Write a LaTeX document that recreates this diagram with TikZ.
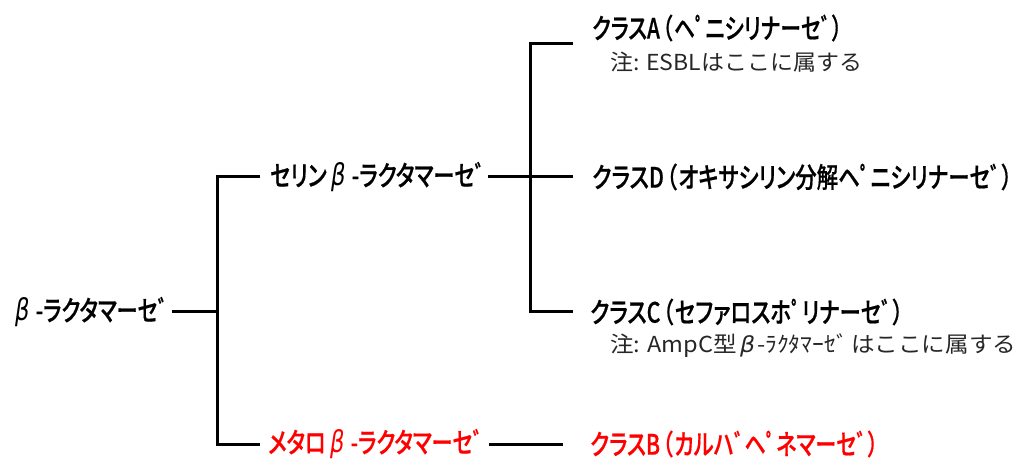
\documentclass[tikz,border=0pt]{standalone}
\usepackage{fontspec}
\usepackage{graphicx}
\newfontfamily\jpn{Noto Sans CJK JP}[RawFeature=+palt,BoldFont={Noto Sans CJK JP Medium},BoldFeatures={FakeBold=0.7}]
\newfontfamily\jpnote{Noto Sans CJK JP}
\newfontfamily\grk{DejaVu Sans}
\newcommand\fitw[2]{\resizebox{#1pt}{\height}{#2}}
\newcommand\gbeta{{\grk\mdseries\itshape\fontsize{30}{30}\selectfont β}}
\newcommand\nbeta{{\grk\itshape β}}
\newcommand\lp{\hspace{3pt}（\hspace{2pt}}
\newcommand\rp{\hspace{1pt}）}
\begin{document}
\begin{tikzpicture}[x=1pt,y=-1pt,
  lbl/.style={anchor=west,inner sep=0pt,font=\jpn\bfseries\fontsize{28}{30}\selectfont},
  note/.style={anchor=west,inner sep=0pt,font=\jpnote\fontsize{22}{24}\selectfont,text=black!85},
  red lbl/.style={lbl,text=red},
  conn/.style={line width=3pt}]
\useasboundingbox (0,0) rectangle (1023,462);
\node[lbl] (root) at (15,312) {\fitw{153}{\gbeta\hspace{8pt}-ラクタマーセﾞ}};
\node[lbl] (ser) at (270,177) {\fitw{215}{セリン\hspace{6pt}\gbeta\hspace{8pt}-ラクタマーセﾞ}};
\node[red lbl] (met) at (268,444) {\fitw{215}{メタロ\hspace{6pt}\gbeta\hspace{8pt}-ラクタマーセﾞ}};
\node[lbl] (ca) at (592,28) {\fitw{250}{クラスA\lp ヘﾟニシリナーセﾞ\rp}};
\node[note] (na) at (610,62) {\fitw{252}{注: ESBLはここに属する}};
\node[lbl] (cd) at (592,177) {\fitw{420}{クラスD\lp オキサシリン分解ヘﾟニシリナーセﾞ\rp}};
\node[lbl] (cc) at (590,312) {\fitw{313}{クラスC\lp セファロスホﾟリナーセﾞ\rp}};
\node[note] (nc) at (610,346) {\fitw{406}{注: AmpC型\hspace{3pt}\nbeta\hspace{2pt}-ﾗｸﾀﾏｰｾﾞ\hspace{3pt}はここに属する}};
\node[red lbl] (cb) at (590,444) {\fitw{288}{クラスB\lp カルハﾞヘﾟネマーセﾞ\rp}};
\coordinate (j1) at (217,312);
\coordinate (j1t) at (217,177);
\coordinate (j1b) at (217,444);
\coordinate (j2) at (530,177);
\coordinate (j2t) at (530,44);
\coordinate (j2b) at (530,312);
\coordinate (ea) at (573,44);
\coordinate (ed) at (573,177);
\coordinate (ec) at (573,312);
\coordinate (es) at (260,177);
\coordinate (em) at (260,444);
\coordinate (eb) at (563,444);
\draw[conn] (root.east |- j1) ++(4,0) -- (j1);
\draw[conn] (es) -- (j1t) -- (j1b) -- (em);
\draw[conn] (ser.east |- j2) ++(3,0) -- (ed);
\draw[conn] (ea) -- (j2t) -- (j2b) -- (ec);
\draw[conn] (met.east |- eb) ++(6,0) -- (eb);
\end{tikzpicture}
\end{document}
